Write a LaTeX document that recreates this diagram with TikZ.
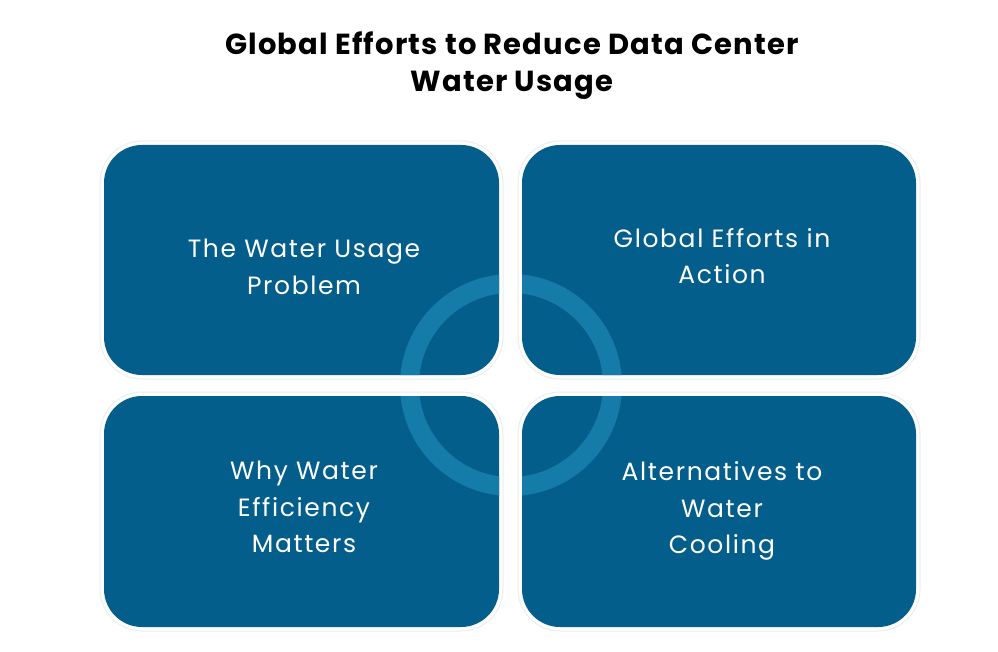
\documentclass[tikz,border=0pt]{standalone}
\usepackage{fontspec}
\setmainfont{Poppins}
\newfontfamily\labelfont[LetterSpace=6.5]{Poppins}
\newfontfamily\titlefont[LetterSpace=4]{Poppins}
\definecolor{boxblue}{HTML}{045E8C}
\definecolor{ringblue}{HTML}{157BA8}
\definecolor{halocol}{HTML}{E8EFF3}
\begin{document}
\begin{tikzpicture}[x=1pt,y=-1pt,
  panel/.style={fill=boxblue,rounded corners=38pt},
  halo/.style={draw=halocol,line width=1pt,rounded corners=42pt},
  label/.style={text=white,align=center,font=\labelfont\fontsize{25}{36.6}\selectfont},
  titlestyle/.style={text=black,align=center,font=\titlefont\bfseries\fontsize{29}{37}\selectfont}]
\useasboundingbox (0,0) rectangle (998,652);
\fill[white] (0,0) rectangle (998,652);
% halos
\draw[halo] (100,141) rectangle (503,379);
\draw[halo] (518,141) rectangle (920,379);
\draw[halo] (100,392) rectangle (503,631);
\draw[halo] (518,392) rectangle (920,631);
% panels
\fill[panel] (104,145) rectangle (499,375);
\fill[panel] (522,145) rectangle (916,375);
\fill[panel] (104,396) rectangle (499,627);
\fill[panel] (522,396) rectangle (916,627);
% ring clipped to panels
\begin{scope}
\clip[rounded corners=38pt] (104,145) rectangle (499,375)
  (522,145) rectangle (916,375)
  (104,396) rectangle (499,627)
  (522,396) rectangle (916,627);
\draw[ringblue,line width=19pt] (511,385) circle (101.5pt);
\end{scope}
% title
\node[titlestyle] (title) at (512,66) {Global Efforts to Reduce Data Center\\Water Usage};
% labels
\node[label] (tl) at (304,267) {The Water Usage\\Problem};
\node[label] (tr) at (722,256) {Global Efforts in\\Action};
\node[label] (bl) at (304,507) {Why Water\\Efficiency\\Matters};
\node[label] (br) at (722,511) {Alternatives to\\Water\\Cooling};
\end{tikzpicture}
\end{document}
